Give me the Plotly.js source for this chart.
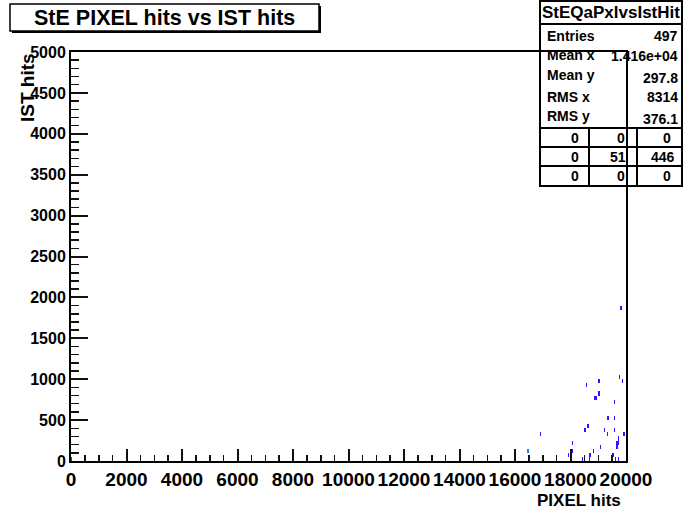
<!DOCTYPE html>
<html>
<head>
<meta charset="utf-8">
<script src="https://cdn.plot.ly/plotly-3.0.1.min.js"></script>
<style>html,body{margin:0;padding:0;background:#fff;}#chart{width:683px;height:510px;}</style>
</head>
<body>
<div id="chart"></div>
<script>
// ---- data (bin contents) ----
const pixelHits = [19820, 18584, 19027, 19773, 19856, 18883, 18944, 19027, 19578, 19320, 19380, 19578,
  18620, 18548, 19218, 19304, 19578, 19903, 16912, 18065, 19737, 19700, 19665, 19063, 18065, 18811,
  18700, 18667, 19665, 16480, 17946, 18425, 18667, 19545, 19600, 19700, 20];
const istHits = [1858, 908, 966, 1011, 966, 758, 758, 811, 705, 513, 513, 513,
  412, 358, 358, 309, 358, 309, 309, 208, 257, 208, 208, 159, 106, 106,
  57, 57, 159, 106, 57, 12, 12, 57, 12, 12, 20];
const counts = [1, 1, 1, 1, 1, 1, 1, 1, 1, 1, 1, 1,
  1, 1, 1, 1, 1, 1, 1, 1, 1, 1, 1, 1, 1, 1,
  1, 1, 1, 2, 1, 1, 1, 1, 1, 1, 10];

const xTickVals = [0, 2000, 4000, 6000, 8000, 10000, 12000, 14000, 16000, 18000, 20000];
const yTickVals = [0, 500, 1000, 1500, 2000, 2500, 3000, 3500, 4000, 4500, 5000];
const xMinorStep = 500;
const yMinorStep = 100;

const titleText = "StE PIXEL hits vs IST hits";
const xTitle = "PIXEL hits";
const yTitle = "IST hits";
const statsName = "StEQaPxlvsIstHit";
const statLabels = ["Entries", "Mean x", "Mean y", "RMS x", "RMS y"];
const statValues = ["497", "1.416e+04", "297.8", "8314", "376.1"];
const gridRows = [["0", "0", "0"], ["0", "51", "446"], ["0", "0", "0"]];

// ---- layout helpers (pixel -> paper) ----
const L = 71, R = 626, T = 52, B = 461;
const xp = px => (px - L) / (R - L);
const yp = py => (B - py) / (B - T);
const FONT = 'Arial, "Liberation Sans", sans-serif';
const TICK = '#111111';

const trace = {
  type: 'histogram2d',
  x: pixelHits, y: istHits, z: counts, histfunc: 'sum',
  xbins: {start: 0, end: 20000, size: 50},
  ybins: {start: 0, end: 5000, size: 50},
  zmin: 0, zmax: 10, showscale: false, hoverinfo: 'skip',
  colorscale: [[0, 'rgba(255,255,255,0)'], [0.05, 'rgba(255,255,255,0)'],
    [0.05, '#3a10ff'], [0.15, '#3a10ff'], [0.15, '#1e7cff'], [0.25, '#1e7cff'],
    [0.25, '#00d8ff'], [0.5, '#00ff40'], [0.75, '#ffe000'], [1, '#ff0000']]
};
// empty trace carrying the overlay axes used for the secondary (minor) ticks
const minorTrace = {type: 'scatter', x: [], y: [], xaxis: 'x2', yaxis: 'y2', hoverinfo: 'skip'};

const shapes = [];
const annotations = [];
function rect(x0, y0, x1, y1, fill, lw) {
  shapes.push({type: 'rect', xref: 'paper', yref: 'paper', layer: 'below',
    x0: xp(x0), x1: xp(x1), y0: yp(y1), y1: yp(y0),
    fillcolor: fill, line: {color: '#000', width: lw}});
}
function line(x0, y0, x1, y1, lw) {
  shapes.push({type: 'line', xref: 'paper', yref: 'paper', layer: 'below',
    x0: xp(x0), x1: xp(x1), y0: yp(y0), y1: yp(y1), line: {color: '#000', width: lw}});
}
function text(t, x, y, size, anchor, angle) {
  annotations.push({text: t, xref: 'paper', yref: 'paper', x: xp(x), y: yp(y),
    xanchor: anchor || 'center', yanchor: 'middle', showarrow: false, textangle: angle || 0,
    font: {family: FONT, size: size, color: '#000', weight: 'bold'}});
}

// title pave with shadow
rect(12, 6, 321, 33, '#000', 0);
rect(10, 4, 319, 31, '#fff', 1.5);
text(titleText, 164, 18, 21.5);

// stats box
rect(540, 1, 682, 186, '#fff', 2);
line(540, 24, 682, 24, 2);
line(540, 128, 682, 128, 2);
line(540, 147, 682, 147, 2);
line(540, 166, 682, 166, 2);
line(589, 128, 589, 186, 2);
line(637, 128, 637, 186, 2);
text(statsName, 611, 12, 17);
const statY = [36, 55, 75, 97, 116];
const valY = [36, 56, 78, 97, 119];
statLabels.forEach((s, i) => text(s, 545, statY[i], 14, 'left'));
statValues.forEach((s, i) => text(s, 680, valY[i], 14, 'right'));
const rowY = [137.5, 157, 176];
const colX = [[575, 621, 667], [575, 618, 663], [575, 621, 667]];
gridRows.forEach((row, r) => row.forEach((s, c) => text(s, colX[r][c], rowY[r], 14)));

// axis titles
text(xTitle, 623, 500, 17, 'right');
text(yTitle, 28, 88, 19, 'center', -90);

const common = {showgrid: false, zeroline: false, fixedrange: true, linecolor: '#000000'};
const layout = {
  width: 683, height: 510,
  margin: {l: L, r: 683 - R, t: T, b: 510 - B, pad: 0},
  paper_bgcolor: '#fff', plot_bgcolor: 'rgba(0,0,0,0)',
  font: {family: FONT, color: '#000', weight: 'bold'},
  showlegend: false,
  xaxis: Object.assign({}, common, {range: [0, 20000], tickmode: 'array', tickvals: xTickVals,
    ticktext: xTickVals.map(String), ticks: 'inside', ticklen: 12, tickwidth: 2, tickcolor: TICK,
    showline: true, linewidth: 2, mirror: true,
    tickfont: {family: FONT, size: 19, color: '#000', weight: 'bold'}}),
  yaxis: Object.assign({}, common, {range: [0, 5000], tickmode: 'array', tickvals: yTickVals,
    ticktext: yTickVals.map(String), ticks: 'inside', ticklen: 17, tickwidth: 2, tickcolor: TICK,
    showline: true, linewidth: 2, mirror: true,
    tickfont: {family: FONT, size: 16, color: '#000', weight: 'bold'}}),
  xaxis2: Object.assign({}, common, {range: [0, 20000], overlaying: 'x', anchor: 'y2', side: 'bottom',
    tickmode: 'linear', tick0: 0, dtick: xMinorStep, ticks: 'inside', ticklen: 6, tickwidth: 1.5, tickcolor: TICK,
    showticklabels: false, showline: false}),
  yaxis2: Object.assign({}, common, {range: [0, 5000], overlaying: 'y', anchor: 'x2', side: 'left',
    tickmode: 'linear', tick0: 0, dtick: yMinorStep, ticks: 'inside', ticklen: 8, tickwidth: 1.5, tickcolor: TICK,
    showticklabels: false, showline: false}),
  shapes: shapes,
  annotations: annotations
};

Plotly.newPlot('chart', [trace, minorTrace], layout, {staticPlot: true, displayModeBar: false});
</script>
</body>
</html>
